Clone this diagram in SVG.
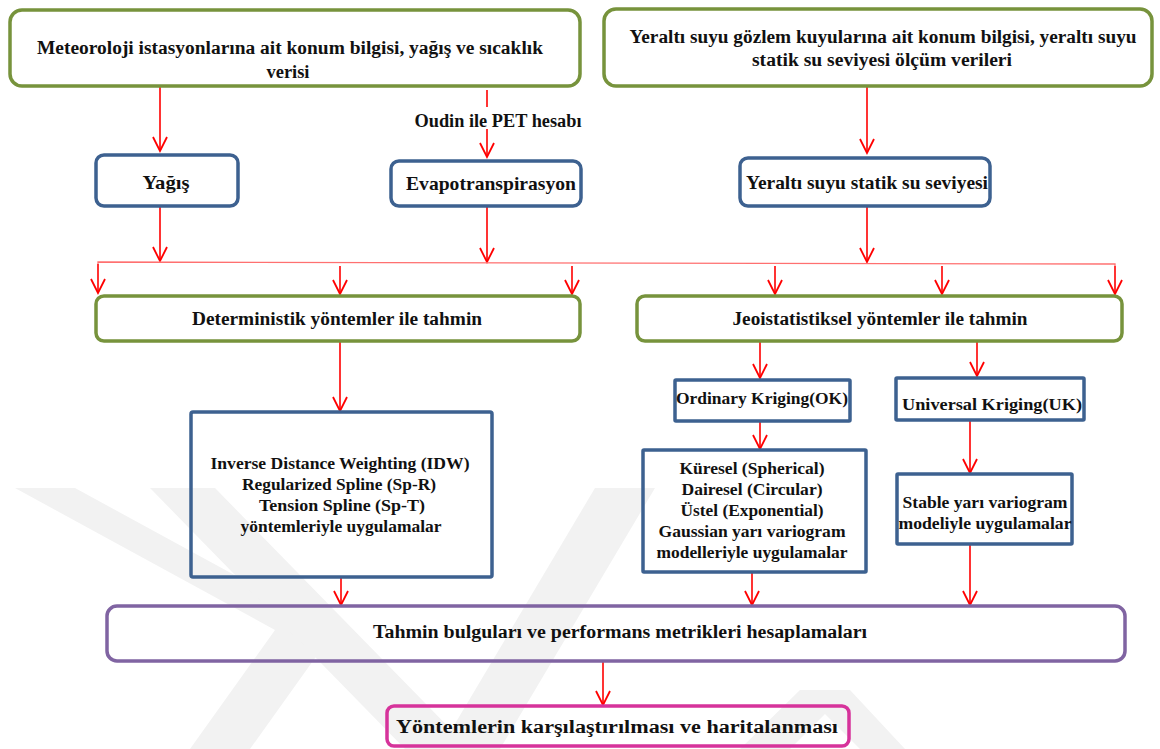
<svg xmlns="http://www.w3.org/2000/svg" width="1160" height="749" viewBox="0 0 1160 749">
<style>
text{font-family:'Liberation Serif','Times New Roman','DejaVu Serif',serif;font-weight:bold;font-size:18px;fill:#111;text-anchor:middle}
.s{font-size:17px}
.l{font-size:19px}
.g{fill:none;stroke:#77933C;stroke-width:3.5}
.b{fill:none;stroke:#3D6190;stroke-width:3.5}
.p{fill:none;stroke:#8064A2;stroke-width:3.5}
.m{fill:none;stroke:#D6339B;stroke-width:3.5}
.c{fill:none;stroke:#FF0000;stroke-width:1.6;marker-end:url(#ah)}
.n{fill:none;stroke:#FF0000;stroke-width:1.6}
.wm{fill:#F2F2F2}
</style>
<defs>
<marker id="ah" markerUnits="userSpaceOnUse" markerWidth="20" markerHeight="20" viewBox="-15 -10 17 20" refX="0" refY="0" orient="auto">
<path d="M-14,-7 L0,0 L-14,7" fill="none" stroke="#FF0000" stroke-width="1.8"/>
</marker>
</defs>
<rect width="1160" height="749" fill="#FFFFFF"/>
<g id="watermark">
<polygon class="wm" points="15,488 75,488 335,630 250,749 190,749 275,630"/>
<polygon class="wm" points="150,488 215,488 470,749 405,749"/>
<polygon class="wm" points="595,488 655,488 500,749 440,749"/>
<polygon class="wm" points="740,749 800,690 850,690 905,749 860,749 825,714 790,749"/>
</g>
<g id="connectors">
<line class="c" x1="160" y1="86" x2="160" y2="151"/>
<line class="n" x1="487" y1="90" x2="487" y2="107"/>
<line class="c" x1="487" y1="129" x2="487" y2="157"/>
<line class="c" x1="867" y1="86" x2="867" y2="153"/>
<line class="c" x1="160" y1="206" x2="160" y2="261"/>
<line class="c" x1="487" y1="206" x2="487" y2="262"/>
<line class="c" x1="867" y1="206" x2="867" y2="262"/>
<polyline fill="none" stroke="#FF7070" stroke-width="1.3" points="98,264 98,262 1115,264 1115,266"/>
<line class="c" x1="98" y1="264" x2="98" y2="293"/>
<line class="c" x1="340" y1="266" x2="340" y2="294"/>
<line class="c" x1="572" y1="266" x2="572" y2="294"/>
<line class="c" x1="775" y1="266" x2="775" y2="294"/>
<line class="c" x1="942" y1="266" x2="942" y2="294"/>
<line class="c" x1="1115" y1="266" x2="1115" y2="294"/>
<line class="c" x1="340" y1="341" x2="340" y2="411"/>
<line class="c" x1="760" y1="341" x2="760" y2="378"/>
<line class="c" x1="977" y1="341" x2="977" y2="376"/>
<line class="c" x1="760" y1="421" x2="760" y2="449"/>
<line class="c" x1="970" y1="420" x2="970" y2="473"/>
<line class="c" x1="341" y1="577" x2="341" y2="605"/>
<line class="c" x1="752" y1="572" x2="752" y2="605"/>
<line class="c" x1="970" y1="544" x2="970" y2="605"/>
<line class="c" x1="603" y1="661" x2="603" y2="705"/>
</g>
<text x="498" y="127" font-size="15" textLength="167" lengthAdjust="spacingAndGlyphs">Oudin ile PET hesabı</text>
<g id="n1">
<rect class="g" x="10" y="10" width="570" height="76" rx="12"/>
<text x="290" y="54" textLength="506" lengthAdjust="spacingAndGlyphs">Meteoroloji istasyonlarına ait konum bilgisi, yağış ve sıcaklık</text>
<text x="288" y="78" textLength="43" lengthAdjust="spacingAndGlyphs">verisi</text>
</g>
<g id="n2">
<rect class="g" x="604" y="9" width="548" height="77" rx="12"/>
<text x="883" y="43" textLength="507" lengthAdjust="spacingAndGlyphs">Yeraltı suyu gözlem kuyularına ait konum bilgisi, yeraltı suyu</text>
<text x="882" y="66" textLength="260" lengthAdjust="spacingAndGlyphs">statik su seviyesi ölçüm verileri</text>
</g>
<g id="n3">
<rect class="b" x="96" y="155" width="142" height="51" rx="8"/>
<text class="l" x="166" y="189" textLength="47" lengthAdjust="spacingAndGlyphs">Yağış</text>
</g>
<g id="n4">
<rect class="b" x="391" y="161" width="190" height="45" rx="8"/>
<text class="l" x="491" y="190" textLength="170" lengthAdjust="spacingAndGlyphs">Evapotranspirasyon</text>
</g>
<g id="n5">
<rect class="b" x="740" y="158" width="250" height="48" rx="8"/>
<text class="l" x="867" y="189" textLength="242" lengthAdjust="spacingAndGlyphs">Yeraltı suyu statik su seviyesi</text>
</g>
<g id="n6">
<rect class="g" x="96" y="296" width="484" height="45" rx="8"/>
<text x="337" y="325" textLength="290" lengthAdjust="spacingAndGlyphs">Deterministik yöntemler ile tahmin</text>
</g>
<g id="n7">
<rect class="g" x="637" y="296" width="485" height="45" rx="8"/>
<text x="880" y="325" textLength="295" lengthAdjust="spacingAndGlyphs">Jeoistatistiksel yöntemler ile tahmin</text>
</g>
<g id="n8">
<rect class="b" x="191" y="412" width="301" height="165" rx="2"/>
<text class="s" x="340" y="469" textLength="259" lengthAdjust="spacingAndGlyphs">Inverse Distance Weighting (IDW)</text>
<text class="s" x="339" y="490" textLength="194" lengthAdjust="spacingAndGlyphs">Regularized Spline (Sp-R)</text>
<text class="s" x="342" y="511" textLength="166" lengthAdjust="spacingAndGlyphs">Tension Spline  (Sp-T)</text>
<text class="s" x="341" y="532" textLength="201" lengthAdjust="spacingAndGlyphs">yöntemleriyle uygulamalar</text>
</g>
<g id="n9">
<rect class="b" x="675" y="380" width="175" height="41" rx="1"/>
<text class="s" x="762" y="404" textLength="172" lengthAdjust="spacingAndGlyphs">Ordinary Kriging(OK)</text>
</g>
<g id="n10">
<rect class="b" x="896" y="378" width="188" height="42" rx="1"/>
<text class="s" x="992" y="410" textLength="180" lengthAdjust="spacingAndGlyphs">Universal Kriging(UK)</text>
</g>
<g id="n11">
<rect class="b" x="643" y="450" width="223" height="122" rx="1"/>
<text class="s" x="752" y="474" textLength="145" lengthAdjust="spacingAndGlyphs">Küresel (Spherical)</text>
<text class="s" x="752" y="495" textLength="141" lengthAdjust="spacingAndGlyphs">Dairesel (Circular)</text>
<text class="s" x="752" y="516" textLength="143" lengthAdjust="spacingAndGlyphs">Üstel (Exponential)</text>
<text class="s" x="752" y="537" textLength="187" lengthAdjust="spacingAndGlyphs">Gaussian yarı variogram</text>
<text class="s" x="752" y="558" textLength="191" lengthAdjust="spacingAndGlyphs">modelleriyle uygulamalar</text>
</g>
<g id="n12">
<rect class="b" x="897" y="474" width="175" height="70" rx="1"/>
<text class="s" x="985" y="508" textLength="165" lengthAdjust="spacingAndGlyphs">Stable yarı variogram</text>
<text class="s" x="985" y="529" textLength="173" lengthAdjust="spacingAndGlyphs">modeliyle uygulamalar</text>
</g>
<g id="n13">
<rect class="p" x="107" y="606" width="1018" height="55" rx="10"/>
<text x="620" y="638" textLength="494" lengthAdjust="spacingAndGlyphs">Tahmin bulguları ve performans metrikleri hesaplamaları</text>
</g>
<g id="n14">
<rect class="m" x="387" y="706" width="462" height="40" rx="7"/>
<text x="617" y="733" font-size="20" textLength="442" lengthAdjust="spacingAndGlyphs">Yöntemlerin karşılaştırılması ve haritalanması</text>
</g>
</svg>
